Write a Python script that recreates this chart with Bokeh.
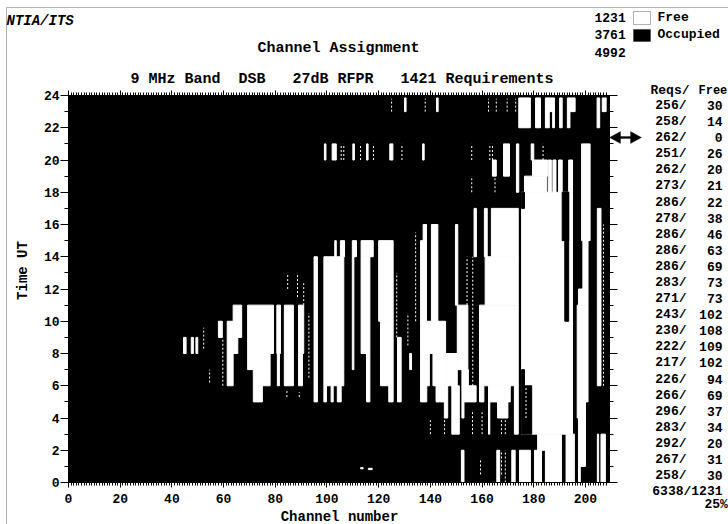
from bokeh.plotting import figure
from bokeh.layouts import column
from bokeh.models import (ColumnDataSource, Range1d, FixedTicker, LinearAxis, Label,
                          BoxAnnotation, PolyAnnotation)
from bokeh.embed import file_html
from bokeh.resources import INLINE

FONT = "Liberation Mono"

n_channels = 209.3
n_hours = 24

# Free (white) blocks: channel from, channel to, hour from, hour to
free_blocks = [
    (44.5,45.5,8,9),(47.5,48.3,8,9),(49.3,50,8,9),(58,59.5,9,10),(61.4,63.7,6,10),
    (63.7,67,9,11),(63.7,65.5,8,9),(69.3,79.3,8,11),(69.3,78,7,8),(71.5,78,6,7),(71.5,75,5,6),
    (80.6,82,8,11),(80.8,81.6,6,8),(83.5,87,6,11),(89,91,8,11),(89,90.5,6,8),(95,96.3,5,14),
    (98.8,106.5,6,14),(98.8,99.8,5,6),(101.6,102.4,5,6),(104,105.5,5,6),(103,103.6,14,15),
    (105.2,106.8,14,15),(109.8,111.4,14,15),(109.8,110.4,7,14),(113.2,117.9,14,15),
    (113.2,116.6,8,14),(115.3,116.6,5,8),(120,125.6,10,15),(120.7,125.6,6,10),(123.9,125.6,5,6),
    (127.3,128.7,5,9),(132,132.7,7,8),(136.2,138.5,10,15),(137.2,138.5,15,16),(140.4,142.9,10,16),
    (136.2,145.9,8,10),(136.2,139.6,6,8),(141,145.4,6,8),(136.2,138.6,5,6),(142.2,145.4,5,6),
    (145.4,146.7,4,8),(146.7,150.4,6,8),(148.3,151.2,3,6),(150.4,154.5,7,11),(149.7,150.6,11,16),
    (152.2,154.7,5,7),(152.2,153,4,5),(154.7,157.7,5,6),(159,160.7,5,6),
    (159,174,6,11),(161.2,174,11,14),(163.6,174,14,17),(160.9,162,14,17),(156.9,157.8,14,17),
    (162.5,170.9,5,6),(166,170,4,5),(162.5,163,3,5),(172.5,174,3,6),
    (175.3,195,3,18),(176.4,185,18,19),(179.5,185.3,19,20),(185.6,186.8,18,20),(187.4,188.6,18,20),
    (189.6,191,18,20),(193.5,195,18,20),(197.3,200,1,4),(196.8,200,4,5),(196.8,201,5,11),
    (197.3,201,11,12),(199,201,12,15),(198.5,201.8,15,21),(197.3,198,0,1),(204.6,206,6,17),
    (164,165.5,19,20),
    (99,99.6,20,21),(102,103.6,20,21),(110,110.6,20,21),(115.3,115.9,20,21),(124.3,125.5,20,21),
    (137,137.6,20,21),(168.3,170.6,19,21),(173.3,174.2,18,21),(179,180,20,21),
    (130,130.6,23,23.85),(142.4,143,23,23.85),(174.2,178.7,22,23.85),(180.7,182.6,22,23.85),
    (184.5,188,23,23.85),(184.5,186,22,23),(187.3,188,22,23),(190,191,22,23.85),(193,196,23,23.85),
    (193,194,22,23),(204.5,205.5,22,23.85),(206.5,208,23,23.85),
    (152,153,0,2),(165.7,166.8,0,2),(171.5,172.8,0,2),(174.5,178.7,0,2),(180.3,183,0,2),
    (184.5,190.7,0,2),(181.5,190.7,2,3),(192.5,195.7,0,3),(204.6,205.1,0,3),(206,207.7,0,3),
    (113,114,0.85,0.92),(116,117.5,0.8,0.88),
]

# Occupied (black) blocks that cut into the free blocks above
occupied_blocks = [
    (175.3,179.2,3,6),(175.3,176.4,6,7),(175.3,176.4,17,18),(192,193.5,10,18),(191,193.5,15,18),
]

# Broken, one-channel free strips: channel, hour from, hour to
broken_strips = [
    (52.3,8.3,9.6),(59.7,6,9),(54.6,6.2,7),(93,6.5,10.5),(84.5,5.3,5.8),(89.3,5.3,5.6),(84.8,12,13),
    (88.6,11.5,13),(91,11,12.5),(127,9,13),(131.3,8.5,10.5),(134.3,10,15.5),(147,6,8),(154.2,11,14),
    (156.4,6,14),(140,3,4),(145.5,3,4),(207,6,16),(156.3,3,4.5),(160,3,4.5),(167.5,3,4),(169,3,4),
    (177,4,6),(169,0,2),(167.5,0.5,2),(159.4,0.5,1.5),
    (105.5,20,21),(106.5,20,21),(113,20,21),(118,20,21),(129,20,21),(156,20,21),(163,20,21),(164,20,21),
    (183.6,20,21),(156,18,19),(165,18,19),
    (125,23,23.8),(138,23,23.8),(162.5,23,23.8),(165.5,23,23.8),(169.7,23,23.8),(173,23,23.8),
]

# Right-hand table, hour 23 at the top down to hour 0
reqs = [256,258,262,251,262,273,286,278,286,286,286,283,271,243,230,222,217,226,266,296,283,292,267,258]
free = [30,14,0,26,20,21,22,38,46,63,69,73,73,102,108,109,102,94,69,37,34,20,31,30]
total_row = ("6338", "1231")
percent = "25%"

legend_counts = ["1231", "3761", "4992"]
legend_names = ["Free", "Occupied"]
x_major = list(range(0, 201, 20))
x_minor = list(range(0, 209))
y_major = list(range(0, 25, 2))
y_minor = list(range(0, 25))

W, H = 728, 524

# Sheet: a figure whose frame is the whole page, holding the texts round the chart
sheet = figure(width=W, height=H, output_backend="svg", toolbar_location=None,
               x_range=Range1d(0, W), y_range=Range1d(H, 0),
               min_border=0, x_axis_type=None, y_axis_type=None, outline_line_color=None,
               background_fill_color="white", border_fill_color="white", frame_align=False)
sheet.grid.visible = False

# Chart: laid over the sheet, with see-through borders
p = figure(width=W, height=H, output_backend="svg", toolbar_location=None,
           x_range=Range1d(0, n_channels), y_range=Range1d(0, n_hours),
           min_border_left=68, min_border_right=119, min_border_top=95, min_border_bottom=42,
           x_axis_type=None, y_axis_type=None, outline_line_color=None,
           background_fill_color=None, border_fill_color=None, frame_align=False)
p.margin = (-H, 0, 0, 0)
p.grid.visible = False

p.quad(left=[0], right=[n_channels], bottom=[0], top=[n_hours], color="black", line_color=None)

def blocks(rows):
    c0, c1, h0, h1 = zip(*rows)
    return ColumnDataSource(dict(c0=c0, c1=c1, h0=h0, h1=h1))

p.quad(left="c0", right="c1", bottom="h0", top="h1", source=blocks(free_blocks),
       fill_color="white", line_color="white", line_width=1)
p.quad(left="c0", right="c1", bottom="h0", top="h1", source=blocks(occupied_blocks),
       fill_color="black", line_color="black", line_width=1)
sc, s0, s1 = zip(*broken_strips)
p.segment(x0=sc, x1=sc, y0=s0, y1=s1, line_color="white", line_width=1, line_dash="2 2")

def style_axis(ax, labels):
    ax.axis_line_color = "black"
    ax.axis_line_width = 1
    ax.major_tick_line_color = "black"
    ax.minor_tick_line_color = "black"
    ax.major_tick_in = 0
    ax.minor_tick_in = 0
    ax.major_label_text_font = FONT
    ax.major_label_text_font_style = "bold"
    ax.major_label_text_font_size = "13px"
    ax.major_label_text_color = "black"
    if not labels:
        ax.major_label_overrides = {t: "" for t in ax.ticker.ticks}

for side in ("below", "above"):
    ax = LinearAxis(ticker=FixedTicker(ticks=x_major, minor_ticks=x_minor))
    style_axis(ax, side == "below")
    ax.major_tick_out = 5
    ax.minor_tick_out = 3
    ax.major_label_standoff = 6
    p.add_layout(ax, side)

for side in ("left", "right"):
    ax = LinearAxis(ticker=FixedTicker(ticks=y_major, minor_ticks=y_minor))
    style_axis(ax, side == "left")
    ax.major_tick_out = 8
    ax.minor_tick_out = 4
    ax.major_label_standoff = 1
    p.add_layout(ax, side)

def put(text, x, y, align="left", size=13, style="bold", angle=0):
    sheet.add_layout(Label(x=x, y=y, text=text,
                           text_align=align, text_baseline="middle", text_font=FONT,
                           text_font_size=f"{size}px", text_font_style=style, text_color="black",
                           angle=angle, angle_units="deg"))

def box(left, right, top, bottom, fill, **kw):
    sheet.add_layout(BoxAnnotation(left=left, right=right, top=top, bottom=bottom,
                                   fill_color=fill, line_color="black", line_width=1, **kw))

put("NTIA/ITS", 6, 20, size=14, style="bold italic")
put("Channel Assignment", 338, 48, align="center", size=15)
nb = "\u00a0"
put(f"9 MHz Band{nb*2}DSB{nb*3}27dB RFPR{nb*3}1421 Requirements", 130, 79, size=15)
put("Time UT", 22, 270, align="center", size=14, angle=90)
put("Channel number", 339, 516, align="center", size=14)

for count, y in zip(legend_counts, (17, 34, 52)):
    put(count, 594, y, size=13)
for name, y in zip(legend_names, (17, 34)):
    put(name, 657, y, size=13)

box(633, 650, 11, 24, "white")
box(633, 650, 29, 41, "black", fill_alpha=1)
box(6, W + 5, 7, H + 5, "white", fill_alpha=0)

put("Reqs/", 650, 90, size=13)
put("Free", 698, 90, size=12)
for i, (r, f) in enumerate(zip(reqs, free)):
    y = 105 + 16.09 * i
    put(f"{r}/", 686, y, align="right")
    put(str(f), 722, y, align="right")
put(f"{total_row[0]}/{total_row[1]}", 722, 491, align="right")
put(percent, 704, 504)

# Double-headed pointer to the busiest hour in the table
for xs, ys in (([609, 620, 620], [137, 131, 143]), ([641, 630, 630], [137, 131, 143])):
    sheet.add_layout(PolyAnnotation(xs=xs, ys=ys, fill_color="black", fill_alpha=1, line_color="black"))
box(619, 631, 136, 138, "black", fill_alpha=1)

page = column(sheet, p, spacing=0)
page.styles = {"position": "absolute", "left": "0", "top": "0"}
open("out.html", "w").write(file_html(page, INLINE))
